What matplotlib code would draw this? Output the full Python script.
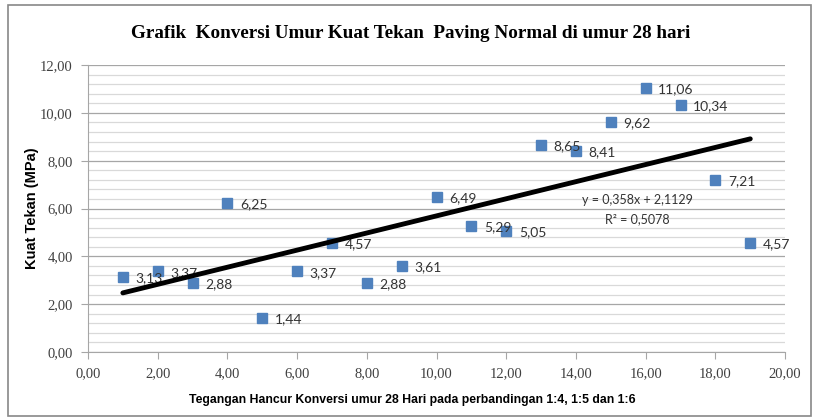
import matplotlib.pyplot as plt
import matplotlib.patches as patches
import numpy as np
from matplotlib.ticker import MultipleLocator, FuncFormatter

plt.rcParams['font.family'] = ['Liberation Serif', 'DejaVu Serif']

umur = [1, 2, 3, 4, 5, 6, 7, 8, 9, 10, 11, 12, 13, 14, 15, 16, 17, 18, 19]
kuat_tekan = [3.13, 3.37, 2.88, 6.25, 1.44, 3.37, 4.57, 2.88, 3.61, 6.49,
              5.29, 5.05, 8.65, 8.41, 9.62, 11.06, 10.34, 7.21, 4.57]
slope = 0.358
intercept = 2.1129
r2 = 0.5078

def koma(v, pos=None):
    return '{:.2f}'.format(v).replace('.', ',')

fig = plt.figure(figsize=(8.17, 4.2), dpi=100)
ax = fig.add_axes([0.1077, 0.162, 0.8533, 0.683])

ax.yaxis.set_minor_locator(MultipleLocator(0.4))
ax.yaxis.set_major_locator(MultipleLocator(2))
ax.xaxis.set_major_locator(MultipleLocator(2))
ax.grid(axis='y', which='major', color='#a6a6a6', lw=0.9)
ax.grid(axis='y', which='minor', color='#d9d9d9', lw=0.9)
ax.set_axisbelow(True)

ax.plot(umur, kuat_tekan, 's', color='#4f81bd', markersize=7.5, zorder=3)
for x, y in zip(umur, kuat_tekan):
    ax.annotate(koma(y), (x, y), xytext=(9, -1), textcoords='offset points',
                va='center', ha='left', fontsize=10, family='Lato', color='#333333')

t = np.array([min(umur), max(umur)])
ax.plot(t, slope * t + intercept, color='black', lw=3.5, zorder=4, solid_capstyle='round')

ax.text(15.75, 6.36, 'y = 0,358x + 2,1129', ha='center', va='center', fontsize=9,
        family='Lato', color='#333333')
ax.text(15.75, 5.55, 'R² = 0,5078', ha='center', va='center', fontsize=9,
        family='Lato', color='#333333')

ax.set_xlim(0, 20)
ax.set_ylim(0, 12)
ax.xaxis.set_major_formatter(FuncFormatter(koma))
ax.yaxis.set_major_formatter(FuncFormatter(koma))
ax.tick_params(axis='both', which='major', color='#a6a6a6', length=5, direction='out',
               labelsize=10.5, labelcolor='#404040', pad=6)
ax.tick_params(axis='y', which='minor', length=0)
for s in ['top', 'right']:
    ax.spines[s].set_visible(False)
for s in ['left', 'bottom']:
    ax.spines[s].set_color('#a6a6a6')

ax.set_xlabel('Tegangan Hancur Konversi umur 28 Hari pada perbandingan 1:4, 1:5 dan 1:6',
              fontsize=8.8, fontweight='bold', family='Liberation Sans')
ax.set_ylabel('Kuat Tekan (MPa)', fontsize=10.5, fontweight='bold', family='Liberation Sans')
ax.xaxis.set_label_coords(0.465, -0.145)
ax.yaxis.set_label_coords(-0.07, 0.5)

fig.text(0.503, 0.921, 'Grafik  Konversi Umur Kuat Tekan  Paving Normal di umur 28 hari',
         ha='center', va='center', fontsize=13.8, fontweight='bold')

fig.patches.append(patches.Rectangle((0.01, 0.01), 0.983, 0.978, transform=fig.transFigure,
                                     fill=False, edgecolor='#888888', lw=1.2))

plt.savefig('out.png', dpi=100)
